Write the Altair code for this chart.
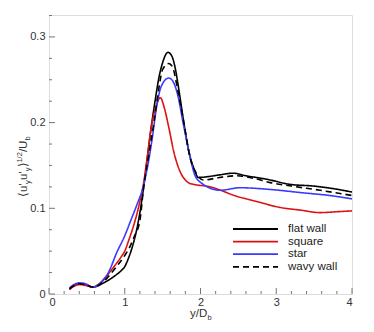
import altair as alt
import pandas as pd

# ---- data ----
flat_x = [0.27, 0.33, 0.40, 0.48, 0.58, 0.70, 0.85, 0.95, 1.00, 1.05, 1.10, 1.15, 1.20, 1.25, 1.30, 1.35, 1.40, 1.45, 1.50, 1.57, 1.62, 1.67, 1.72, 1.78, 1.85, 1.92, 1.97, 2.10, 2.25, 2.43, 2.60, 2.87, 3.18, 3.49, 3.75, 4.00]
flat_y = [0.006, 0.010, 0.012, 0.011, 0.008, 0.012, 0.020, 0.027, 0.032, 0.042, 0.055, 0.072, 0.095, 0.125, 0.160, 0.195, 0.225, 0.252, 0.270, 0.282, 0.278, 0.262, 0.235, 0.200, 0.165, 0.145, 0.136, 0.137, 0.139, 0.141, 0.138, 0.134, 0.128, 0.126, 0.123, 0.119]

square_x = [0.27, 0.33, 0.40, 0.48, 0.58, 0.65, 0.75, 0.85, 0.95, 1.00, 1.05, 1.10, 1.15, 1.20, 1.25, 1.30, 1.35, 1.40, 1.47, 1.52, 1.58, 1.65, 1.72, 1.80, 1.86, 2.13, 2.48, 2.74, 3.05, 3.31, 3.58, 3.80, 4.00]
square_y = [0.005, 0.009, 0.011, 0.010, 0.008, 0.011, 0.020, 0.031, 0.043, 0.050, 0.062, 0.075, 0.090, 0.108, 0.130, 0.162, 0.195, 0.215, 0.229, 0.218, 0.195, 0.165, 0.145, 0.133, 0.129, 0.125, 0.114, 0.108, 0.101, 0.098, 0.095, 0.096, 0.097]

star_x = [0.27, 0.33, 0.40, 0.48, 0.58, 0.65, 0.72, 0.80, 0.89, 1.00, 1.08, 1.16, 1.24, 1.30, 1.36, 1.42, 1.48, 1.58, 1.63, 1.70, 1.77, 1.85, 1.92, 1.99, 2.26, 2.52, 2.92, 3.36, 3.70, 4.00]
star_y = [0.007, 0.011, 0.013, 0.012, 0.008, 0.011, 0.0163, 0.028, 0.0475, 0.068, 0.086, 0.104, 0.124, 0.148, 0.180, 0.218, 0.242, 0.252, 0.249, 0.232, 0.200, 0.165, 0.140, 0.131, 0.121, 0.124, 0.122, 0.118, 0.115, 0.111]

wavy_x = [0.27, 0.33, 0.40, 0.48, 0.58, 0.70, 0.80, 0.90, 1.00, 1.05, 1.12, 1.20, 1.25, 1.32, 1.39, 1.45, 1.50, 1.58, 1.63, 1.70, 1.78, 1.86, 1.95, 2.04, 2.25, 2.48, 2.70, 2.92, 3.20, 3.58, 4.00]
wavy_y = [0.006, 0.010, 0.012, 0.011, 0.008, 0.013, 0.022, 0.033, 0.045, 0.052, 0.066, 0.086, 0.125, 0.164, 0.203, 0.240, 0.262, 0.269, 0.265, 0.238, 0.200, 0.160, 0.140, 0.133, 0.136, 0.138, 0.135, 0.130, 0.126, 0.121, 0.115]

series_names = ["flat wall", "square", "star", "wavy wall"]
series_colors = ["#000000", "#dd1111", "#3a3aff", "#000000"]
series_dash = [[1, 0], [1, 0], [1, 0], [6, 4]]

x_major = [0, 1, 2, 3, 4]
y_major = [0.0, 0.1, 0.2, 0.3]
x_minor = [i * 0.2 for i in range(21) if i % 5 != 0]
y_minor = [i * 0.025 for i in range(14) if i % 4 != 0]

X_MAX = 4.0
Y_MAX = 0.3256
W, H = 303, 279

rows = []
for name, xs, ys in [("flat wall", flat_x, flat_y), ("square", square_x, square_y),
                     ("star", star_x, star_y), ("wavy wall", wavy_x, wavy_y)]:
    for i, (a, b) in enumerate(zip(xs, ys)):
        rows.append({"series": name, "x": a, "y": b, "order": i})
df = pd.DataFrame(rows)

xscale = alt.Scale(domain=[0, X_MAX], nice=False, zero=False)
yscale = alt.Scale(domain=[0, Y_MAX], nice=False, zero=False)

FONT = "Liberation Sans"
GRAY = "#777777"
LABEL = "#333333"

lines = alt.Chart(df).mark_line(interpolate="monotone", strokeWidth=1.6, clip=True).encode(
    x=alt.X("x:Q", scale=xscale,
            axis=alt.Axis(values=x_major, format="d", ticks=False, domain=False, grid=False,
                          labelFont=FONT, labelFontSize=11, labelColor=LABEL, labelPadding=2,
                          title=None)),
    y=alt.Y("y:Q", scale=yscale,
            axis=alt.Axis(values=y_major, format=".1~f", ticks=False, domain=False, grid=False,
                          labelFont=FONT, labelFontSize=11, labelColor=LABEL, labelPadding=4,
                          labelExpr="datum.value == 0 ? '0' : format(datum.value, '.1f')",
                          title=None)),
    color=alt.Color("series:N", scale=alt.Scale(domain=series_names, range=series_colors), legend=None),
    strokeDash=alt.StrokeDash("series:N", scale=alt.Scale(domain=series_names, range=series_dash), legend=None),
    order="order:Q",
)

# inward ticks
xt_major = alt.Chart(pd.DataFrame({"v": x_major})).mark_rule(color=GRAY, strokeWidth=1).encode(
    x=alt.X("v:Q", scale=xscale), y=alt.value(H), y2=alt.value(H - 6))
xt_minor = alt.Chart(pd.DataFrame({"v": x_minor})).mark_rule(color=GRAY, strokeWidth=1).encode(
    x=alt.X("v:Q", scale=xscale), y=alt.value(H), y2=alt.value(H - 3))
yt_major = alt.Chart(pd.DataFrame({"v": y_major})).mark_rule(color=GRAY, strokeWidth=1).encode(
    y=alt.Y("v:Q", scale=yscale), x=alt.value(0), x2=alt.value(6))
yt_minor = alt.Chart(pd.DataFrame({"v": y_minor})).mark_rule(color=GRAY, strokeWidth=1).encode(
    y=alt.Y("v:Q", scale=yscale), x=alt.value(0), x2=alt.value(3))

# legend (manual)
leg_df = pd.DataFrame({"series": series_names, "row": list(range(4))})
leg_df["py"] = 214 + 12.6 * leg_df["row"]
leg_lines = alt.Chart(leg_df).mark_rule(strokeWidth=1.8).encode(
    x=alt.value(184), x2=alt.value(229),
    y=alt.Y("py:Q", scale=None),
    color=alt.Color("series:N", scale=alt.Scale(domain=series_names, range=series_colors), legend=None),
    strokeDash=alt.StrokeDash("series:N", scale=alt.Scale(domain=series_names, range=series_dash), legend=None),
)
leg_text = alt.Chart(leg_df).mark_text(align="left", baseline="middle", font=FONT, fontSize=11.5,
                                       color="#222222").encode(
    x=alt.value(239), y=alt.Y("py:Q", scale=None), text="series:N")

one = pd.DataFrame({"a": [0]})

def txt(s, x, y, size, angle=0, baseline="alphabetic"):
    return alt.Chart(one).mark_text(align="left", baseline=baseline, font=FONT, fontSize=size,
                                    angle=angle, color=LABEL).encode(
        x=alt.value(x), y=alt.value(y), text=alt.value(s))

# x title: y/D_b
xt0 = 141
x_title = [txt("y/D", xt0, 302, 11.5), txt("b", xt0 + 17.5, 305, 7.5)]

# y title (rotated): <u'_y u'_y>^{1/2}/U_b
ybase = -22
ystart = 182
pieces = [("⟨u'", 0, 11.5, 13.0), ("y", 2.5, 7.5, 4.0), ("u'", 0, 11.5, 8.8), ("y", 2.5, 7.5, 4.0),
          ("⟩", 0, 11.5, 4.6), ("1/2", -5, 7.5, 10.5), ("/U", 0, 11.5, 11.5), ("b", 2.5, 7.5, 4.2)]
y_title = []
pos = ystart
for s, dx, size, w in pieces:
    y_title.append(txt(s, ybase + dx, pos, size, angle=270))
    pos -= w

chart = alt.layer(
    lines, xt_major, xt_minor, yt_major, yt_minor, leg_lines, leg_text, *x_title, *y_title
).properties(
    width=W, height=H,
    autosize=alt.AutoSizeParams(type="none"),
    padding={"left": 41, "top": 7, "right": 14, "bottom": 30},
).configure_view(stroke=GRAY, strokeWidth=1.2).configure(background="white")

chart.save("out.html", embed_options={"renderer": "svg", "actions": False})
